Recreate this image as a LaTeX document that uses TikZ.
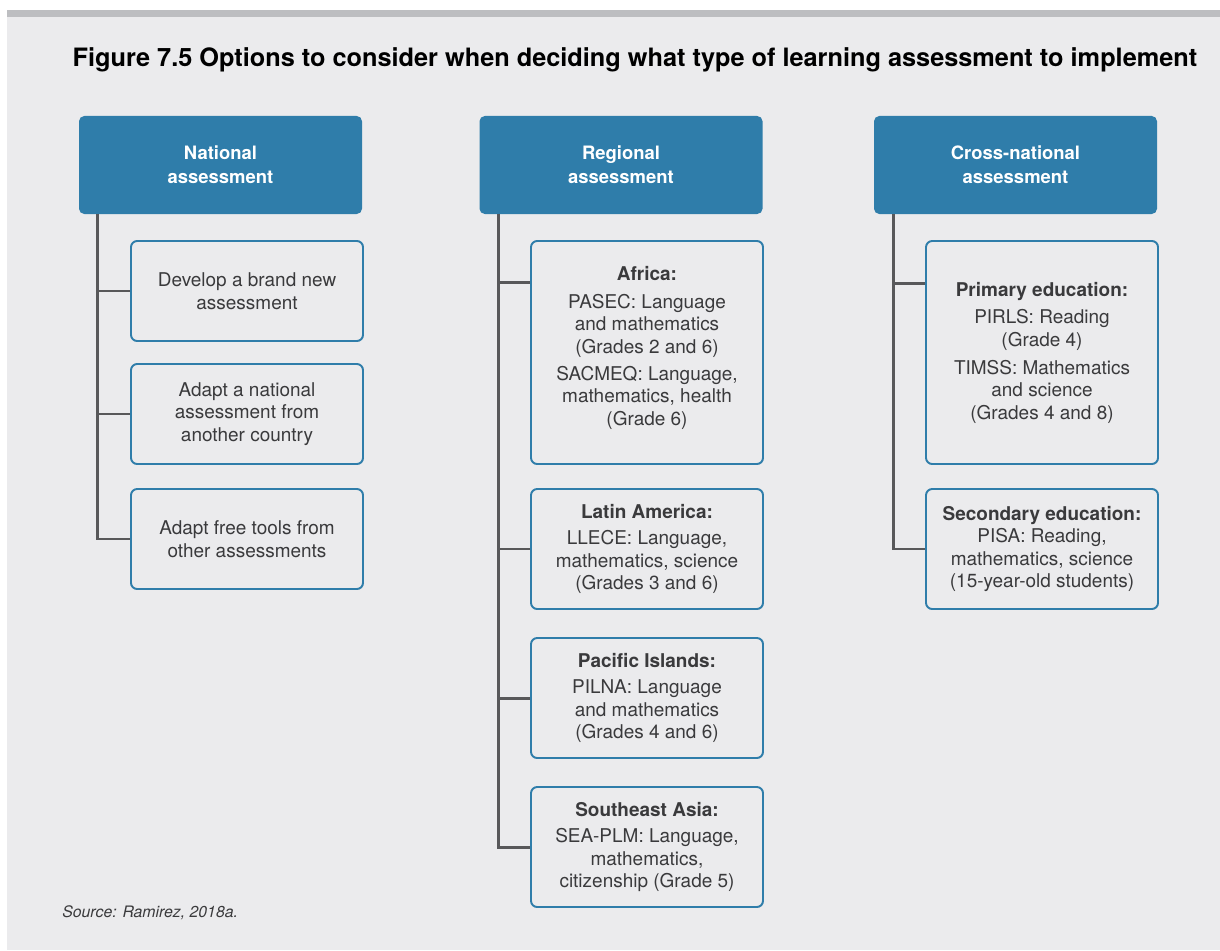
\documentclass[tikz,border=0pt]{standalone}
\usepackage{fontspec}
\setmainfont{TeX Gyre Heros}
\usepackage{tikz}
\usetikzlibrary{positioning}
\definecolor{hdrblue}{HTML}{2F7DAA}
\definecolor{panelgray}{HTML}{EBEBED}
\definecolor{bargray}{HTML}{BDBEC1}
\definecolor{linkgray}{HTML}{58585A}
\definecolor{txtgray}{HTML}{3A3A3C}

\begin{document}
\begin{tikzpicture}[
    every node/.style={font=\fontsize{10.8}{12.8}\selectfont},
    hdrbox/.style={fill=hdrblue, rounded corners=3pt, minimum width=5.66cm,
        minimum height=1.96cm, align=center, text=white,
        font=\fontsize{10.5}{13.6}\selectfont\bfseries},
    optbox/.style={draw=hdrblue, line width=1.1pt, fill=panelgray,
        rounded corners=3.5pt, minimum width=4.64cm, minimum height=2.0cm,
        align=center, text=txtgray, inner sep=2pt},
    link/.style={draw=linkgray, line width=1.7pt}
]
    % page and top rule
    \useasboundingbox (0,0) rectangle (24.4,-19.0);
    \fill[white] (0,0) rectangle (24.4,-19.0);
    \fill[panelgray] (0.14,-0.34) rectangle (24.4,-19.0);
    \fill[bargray] (0.14,-0.20) rectangle (24.4,-0.34);

    \node[font=\fontsize{14.4}{17}\selectfont\bfseries, text=black] (title) at (12.7,-1.2)
        {Figure 7.5 Options to consider when deciding what type of learning assessment to implement};

    % headers
    \node[hdrbox] (nat) at (4.41,-3.30) {National\\assessment};
    \node[hdrbox] (reg) at (12.42,-3.30) {Regional\\assessment};
    \node[hdrbox] (crs) at (20.31,-3.30) {Cross-national\\assessment};

    % national options
    \node[optbox] (nat1) at (4.94,-5.82) {Develop a brand new\\assessment};
    \node[optbox] (nat2) at (4.94,-8.28) {Adapt a national\\assessment from\\another country};
    \node[optbox] (nat3) at (4.94,-10.78) {Adapt free tools from\\other assessments};

    % regional options
    \node[optbox, minimum height=4.46cm] (reg1) at (12.94,-7.05)
        {\textbf{Africa:}\\[3pt] PASEC: Language\\and mathematics\\(Grades 2 and 6)\\[2.5pt]
         SACMEQ: Language,\\mathematics, health\\(Grade 6)\\[-5pt]\mbox{}};
    \node[optbox, minimum height=2.4cm] (reg2) at (12.94,-10.98)
        {\textbf{Latin America:}\\[2pt] LLECE: Language,\\mathematics, science\\(Grades 3 and 6)};
    \node[optbox, minimum height=2.4cm] (reg3) at (12.94,-13.96)
        {\textbf{Pacific Islands:}\\[2pt] PILNA: Language\\and mathematics\\(Grades 4 and 6)};
    \node[optbox, minimum height=2.4cm] (reg4) at (12.94,-16.94)
        {\textbf{Southeast Asia:}\\[2pt] SEA-PLM: Language,\\mathematics,\\citizenship (Grade 5)};

    % cross-national options
    \node[optbox, minimum height=4.46cm] (crs1) at (20.84,-7.05)
        {\textbf{Primary education:}\\[3pt] PIRLS: Reading\\(Grade 4)\\[3pt]
         TIMSS: Mathematics\\and science\\(Grades 4 and 8)};
    \node[optbox, minimum height=2.4cm] (crs2) at (20.84,-10.98)
        {\textbf{Secondary education:}\\PISA: Reading,\\mathematics, science\\(15-year-old students)};

    % connectors
    \coordinate (natT) at ([xshift=0.38cm]nat.south west);
    \coordinate (regT) at ([xshift=0.38cm]reg.south west);
    \coordinate (crsT) at ([xshift=0.40cm]crs.south west);
    \draw[link] (natT) |- (nat3.west);
    \foreach \b in {nat1,nat2} \draw[link] (\b.west) -- (\b.west -| natT);
    \draw[link] (regT) |- (reg4.west);
    \foreach \b in {reg2,reg3} \draw[link] (\b.west) -- (\b.west -| regT);
    \draw[link] ([yshift=-0.85cm]reg1.north west) -- ([yshift=-0.85cm]reg1.north west -| regT);
    \draw[link] (crsT) |- (crs2.west);
    \draw[link] ([yshift=-0.86cm]crs1.north west) -- ([yshift=-0.86cm]crs1.north west -| crsT);

    \node[anchor=west, inner sep=0pt, text=txtgray, font=\fontsize{9}{11}\selectfont\itshape] (src) at (1.24,-18.26)
        {Source: Ramirez, 2018a.};
\end{tikzpicture}
\end{document}
